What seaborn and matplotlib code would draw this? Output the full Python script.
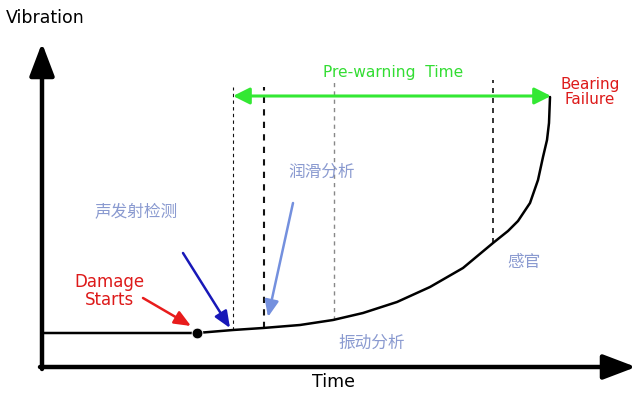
import matplotlib
matplotlib.use("Agg")
import matplotlib.pyplot as plt
import seaborn as sns
import pandas as pd

sns.set_theme(style="white")
plt.rcParams['font.family'] = ['DejaVu Sans', 'Noto Sans CJK SC']

# ---- data (time -> right, vibration -> up) ----
curve_time = [42, 120, 197, 233, 263, 300, 333, 363, 397, 430, 463, 493, 508, 518, 530,
              538, 543, 547, 549, 550]
curve_vibration = [61, 61, 61, 64, 66, 69, 74, 81, 92, 107, 126, 151, 163, 173, 191,
                   214, 237, 254, 271, 297]

damage_time = [197]
damage_vibration = [61]

# dashed markers: time, top, bottom
marker_times = [233, 264, 334, 493]
marker_tops = [307, 307, 314, 314]
marker_bottoms = [64, 66, 74, 151]
marker_colors = ['#111111', '#111111', '#888888', '#111111']
marker_widths = [0.8, 1.5, 1.0, 1.2]

prewarning_start, prewarning_end, prewarning_level = 233, 551, 298

labels_cn = ['声发射检测', '润滑分析', '感官', '振动分析']
labels_cn_pos = [(136, 182), (322, 222), (524, 132), (372, 51)]

# pointer arrows: (tail, tip, colour)
pointer_tails = [(143, 96), (183, 141), (293, 191)]
pointer_tips = [(191, 68), (230, 66), (268, 77)]
pointer_colors = ['#e81c1c', '#1818b8', '#7490de']

df = pd.DataFrame({'time': curve_time, 'vibration': curve_vibration})

fig = plt.figure(figsize=(6.4, 3.94), dpi=100)
ax = fig.add_axes([0, 0, 1, 1])
ax.set_xlim(0, 640)
ax.set_ylim(0, 394)
ax.axis('off')

# axes arrows
ax.annotate('', xy=(42, 351), xytext=(42, 25),
            arrowprops=dict(arrowstyle='-|>,head_length=1.0,head_width=0.38',
                            mutation_scale=20, lw=3.2, color='black',
                            shrinkA=0, shrinkB=0))
ax.annotate('', xy=(636, 27), xytext=(40, 27),
            arrowprops=dict(arrowstyle='-|>,head_length=1.0,head_width=0.38',
                            mutation_scale=20, lw=3.2, color='black',
                            shrinkA=0, shrinkB=0))

# dashed markers
for t, top, bot, c, w in zip(marker_times, marker_tops, marker_bottoms, marker_colors, marker_widths):
    ax.plot([t, t], [bot, top], ls=(0, (3, 3)), color=c, lw=w)

# curve
sns.lineplot(data=df, x='time', y='vibration', ax=ax, color='black', lw=1.8, sort=False)
sns.scatterplot(x=damage_time, y=damage_vibration, ax=ax, color='black', s=60, zorder=5)

# pre-warning arrow
ax.annotate('', xy=(prewarning_end, prewarning_level), xytext=(prewarning_start, prewarning_level),
            arrowprops=dict(arrowstyle='<|-|>,head_length=1.0,head_width=0.5',
                            mutation_scale=10, lw=2.2, color='#33e833',
                            shrinkA=0, shrinkB=0))

# pointer arrows
for tail, tip, c in zip(pointer_tails, pointer_tips, pointer_colors):
    ax.annotate('', xy=tip, xytext=tail,
                arrowprops=dict(arrowstyle='-|>,head_length=1.0,head_width=0.42',
                                mutation_scale=10, lw=1.8, color=c,
                                shrinkA=0, shrinkB=0))

# texts
ax.text(45, 376, 'Vibration', fontsize=12.5, ha='center', va='center', color='black')
ax.text(334, 12, 'Time', fontsize=12.5, ha='center', va='center', color='black')
ax.text(393, 322, 'Pre-warning  Time', fontsize=11.2, ha='center', va='center', color='#33dd33')
ax.text(590, 302, 'Bearing\nFailure', fontsize=11, ha='center', va='center',
        color='#dd1a1a', linespacing=1.0)
ax.text(109, 103, 'Damage\nStarts', fontsize=12, ha='center', va='center',
        color='#dd1a1a', linespacing=1.0)

for lab, (x, y) in zip(labels_cn, labels_cn_pos):
    ax.text(x, y, lab, fontsize=12, ha='center', va='center', color='#8a9ad0',
            family=['Noto Sans CJK SC', 'DejaVu Sans'])

fig.savefig('out.png', dpi=100)
